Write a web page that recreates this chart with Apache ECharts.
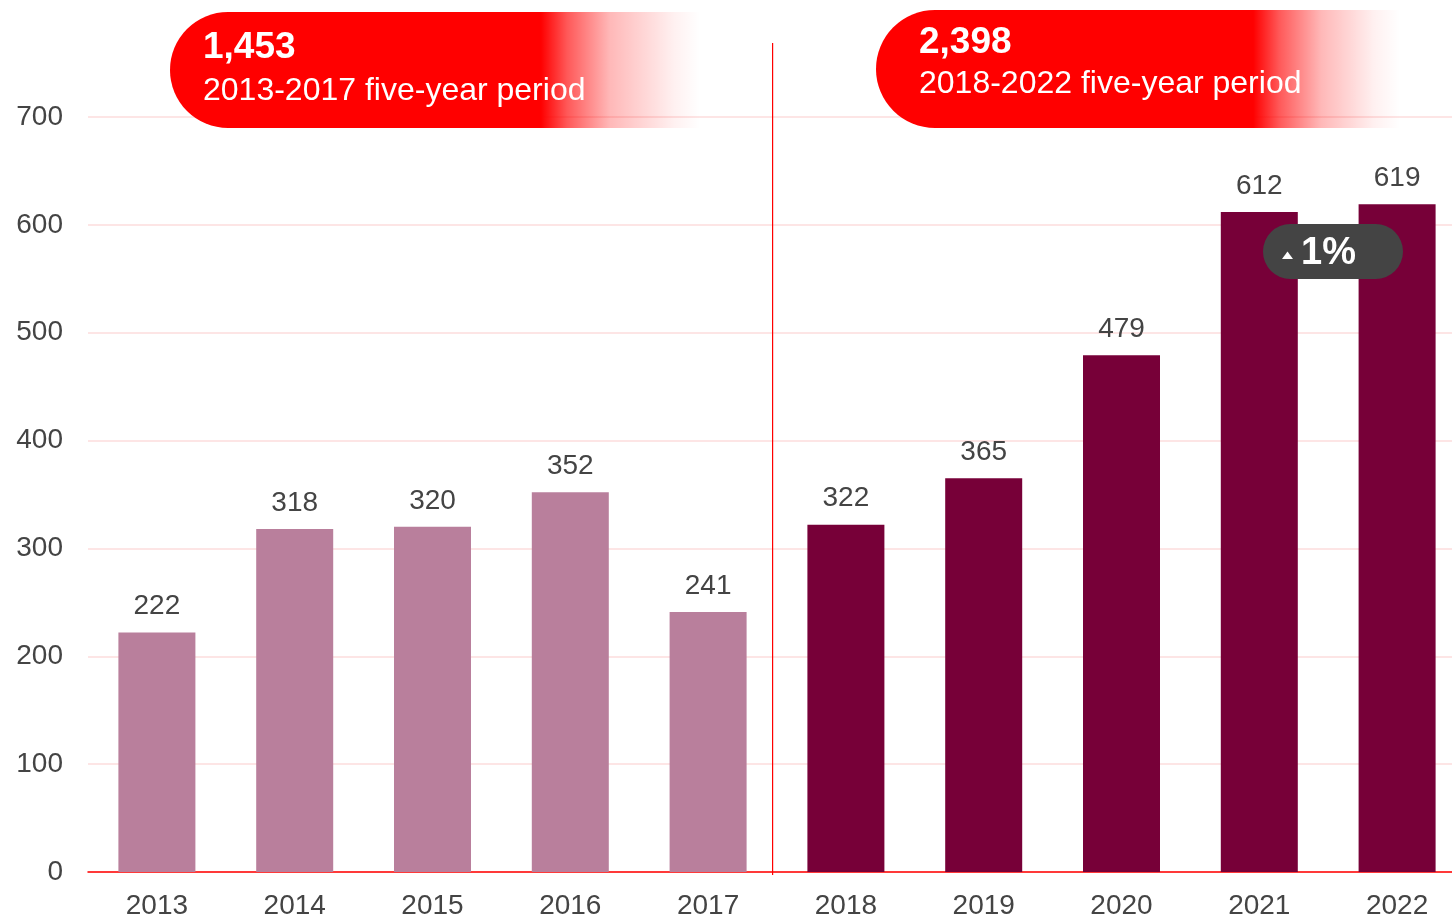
<!DOCTYPE html>
<html>
<head>
<meta charset="utf-8">
<script src="https://cdn.jsdelivr.net/npm/echarts@6/dist/echarts.min.js"></script>
<style>
  html, body { margin: 0; padding: 0; background: #fff; }
  #chart { width: 1452px; height: 919px; }
</style>
</head>
<body>
<div id="chart"></div>
<script>
// Annual figures, split into two five-year periods
const years = ['2013', '2014', '2015', '2016', '2017', '2018', '2019', '2020', '2021', '2022'];
const firstPeriod = [222, 318, 320, 352, 241, null, null, null, null, null];
const secondPeriod = [null, null, null, null, null, 322, 365, 479, 612, 619];
const yTicks = [0, 100, 200, 300, 400, 500, 600, 700];
const periodTotals = ['1,453', '2,398'];
const periodNames = ['2013-2017 five-year period', '2018-2022 five-year period'];
const changeLabel = '1%';

const FONT = '"Liberation Sans", Arial, Helvetica, sans-serif';
const chart = echarts.init(document.getElementById('chart'));

function barSeries(name, data, color) {
  return {
    name: name,
    type: 'bar',
    data: data,
    barWidth: 77,
    barGap: '-100%',
    itemStyle: { color: color },
    label: {
      show: true,
      position: 'top',
      distance: 12,
      color: '#444',
      fontFamily: FONT,
      fontSize: 28
    },
    animation: false
  };
}

function banner(x, y, w, h, fadeStart, total, name, textX, totalY, nameY) {
  return {
    type: 'group',
    children: [
      {
        type: 'rect',
        shape: { x: x, y: y, width: w, height: h, r: [h / 2, 0, 0, h / 2] },
        style: {
          fill: new echarts.graphic.LinearGradient(0, 0, 1, 0, [
            { offset: 0, color: 'rgba(255,0,0,1)' },
            { offset: fadeStart, color: 'rgba(255,0,0,1)' },
            { offset: fadeStart + 0.05, color: 'rgba(255,0,0,0.65)' },
            { offset: fadeStart + 0.13, color: 'rgba(255,0,0,0.28)' },
            { offset: 0.95, color: 'rgba(255,0,0,0.06)' },
            { offset: 1, color: 'rgba(255,0,0,0)' }
          ])
        },
        z: 10
      },
      {
        type: 'text',
        x: textX, y: totalY,
        style: { text: total, fill: '#fff', font: 'bold 37px ' + FONT, textVerticalAlign: 'middle' },
        z: 11
      },
      {
        type: 'text',
        x: textX, y: nameY,
        style: { text: name, fill: '#fff', font: '32px ' + FONT, textVerticalAlign: 'middle' },
        z: 11
      }
    ]
  };
}

chart.setOption({
  backgroundColor: '#fff',
  animation: false,
  grid: { left: 88, right: -14, top: 117, bottom: 47, containLabel: false, outerBoundsMode: 'none' },
  xAxis: {
    type: 'category',
    data: years,
    axisLine: { show: true, lineStyle: { color: '#ff0000', width: 1.5 } },
    axisTick: { show: false },
    axisLabel: { color: '#444', fontFamily: FONT, fontSize: 28, margin: 20 }
  },
  yAxis: {
    type: 'value',
    min: yTicks[0],
    max: yTicks[yTicks.length - 1],
    interval: 100,
    axisLine: { show: false },
    axisTick: { show: false },
    splitLine: { lineStyle: { color: '#fddcdc', width: 1.5 } },
    axisLabel: { color: '#444', fontFamily: FONT, fontSize: 28, margin: 25 }
  },
  series: [
    barSeries('2013-2017', firstPeriod, '#b97f9c'),
    barSeries('2018-2022', secondPeriod, '#770038')
  ]
});

// Divider between the two periods, plus period banners and change badge
const leftX = chart.convertToPixel({ xAxisIndex: 0 }, 4);
const rightX = chart.convertToPixel({ xAxisIndex: 0 }, 5);
const dividerX = Math.round((leftX + rightX) / 2) - 5;
const baseY = chart.convertToPixel({ yAxisIndex: 0 }, 0);

chart.setOption({
  graphic: [
    {
      type: 'rect',
      shape: { x: dividerX, y: 43, width: 1.2, height: baseY + 3 - 43 },
      style: { fill: '#ff0000' },
      z: 5
    },
    banner(170, 12, 530, 116, 0.7, periodTotals[0], periodNames[0], 203, 48, 91),
    banner(876, 10, 524, 118, 0.72, periodTotals[1], periodNames[1], 919, 43, 84),
    {
      type: 'group',
      children: [
        {
          type: 'rect',
          shape: { x: 1263, y: 224, width: 140, height: 55, r: 27.5 },
          style: { fill: '#444444' },
          z: 12
        },
        {
          type: 'polygon',
          shape: { points: [[1287.5, 251.5], [1282, 259], [1293, 259]] },
          style: { fill: '#fff' },
          z: 13
        },
        {
          type: 'text',
          x: 1301, y: 254,
          style: { text: changeLabel, fill: '#fff', font: 'bold 38px ' + FONT, textVerticalAlign: 'middle' },
          z: 13
        }
      ]
    }
  ]
});
</script>
</body>
</html>
